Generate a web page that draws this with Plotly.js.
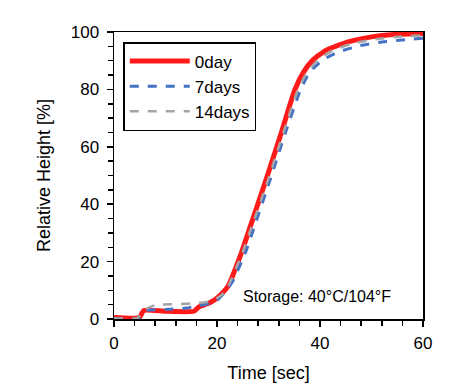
<!DOCTYPE html>
<html>
<head>
<meta charset="utf-8">
<script src="https://cdn.plot.ly/plotly-3.0.1.min.js"></script>
<style>html,body{margin:0;padding:0;background:#fff;}#chart{width:470px;height:391px;}</style>
</head>
<body>
<div id="chart"></div>
<script>
const seriesNames = ["0day", "7days", "14days"];

const time0 = [0, 4.9, 5.8, 10, 15.5, 16.5, 18.5, 19.5, 21, 22.1, 24.7, 26.7, 29.5, 32.5, 35.1, 36.8, 38.6, 41.2, 43, 46, 50, 55, 60];
const height0 = [0.5, 0.5, 3, 2.7, 2.7, 4.2, 5.6, 6.6, 9, 11.3, 22.9, 33.5, 48.4, 65, 79.8, 86, 90.2, 93.7, 95, 96.8, 98.3, 99.2, 99.5];

const time7 = [0, 5, 6.5, 10, 14, 16, 18, 20, 22, 23, 25.5, 27.5, 30.3, 33.3, 36.2, 38, 40.5, 43.5, 47.7, 52, 56, 60];
const height7 = [0.2, 0.2, 3, 3.3, 3.8, 4.5, 5.2, 6.5, 10.5, 13, 23, 33.5, 48.4, 65, 79.8, 86, 90.2, 93, 95.2, 96.5, 97.2, 97.8];

const time14 = [0, 4.5, 6.2, 8.1, 12, 16.2, 19, 21, 22, 24.9, 27, 29.9, 32.9, 35.7, 37.5, 39.8, 42.5, 46, 50, 55, 60];
const height14 = [0.3, 0.3, 3.5, 4.9, 5.2, 5.5, 6.3, 8.5, 10.8, 22.9, 33.5, 48.4, 65, 79.8, 86, 90.5, 93.6, 95.8, 97.3, 98.3, 98.8];

const annotationText = "Storage: 40°C/104°F";

const traces = [
  {x: time0, y: height0, name: seriesNames[0], mode: "lines", line: {color: "#ff1a1a", width: 5, shape: "spline", smoothing: 0.5}},
  {x: time7, y: height7, name: seriesNames[1], mode: "lines", line: {color: "#4472c4", width: 3, dash: "dash", shape: "spline", smoothing: 0.5}},
  {x: time14, y: height14, name: seriesNames[2], mode: "lines", line: {color: "#a5a5a5", width: 2.5, dash: "dash", shape: "spline", smoothing: 0.5}}
];

const axisCommon = {
  showline: true, linecolor: "#000", linewidth: 1.5, mirror: true,
  ticks: "outside", ticklen: 6, tickcolor: "#000", tickwidth: 1.5,
  showgrid: false, zeroline: false,
  tickfont: {family: "Liberation Sans, Arial, sans-serif", size: 17, color: "#000"}
};

const layout = {
  width: 470, height: 391,
  margin: {l: 114, r: 47, t: 32, b: 72},
  paper_bgcolor: "#fff", plot_bgcolor: "#fff",
  font: {family: "Liberation Sans, Arial, sans-serif", color: "#000"},
  xaxis: Object.assign({}, axisCommon, {
    range: [0, 60], dtick: 20, tick0: 0, ticklabelstandoff: 2,
    minor: {dtick: 4, ticks: "outside", ticklen: 5, tickcolor: "#000", tickwidth: 1.5},
    title: {text: "Time [sec]", font: {size: 18, color: "#000"}, standoff: 14}
  }),
  yaxis: Object.assign({}, axisCommon, {
    range: [0, 100], dtick: 20, tick0: 0, ticklabelstandoff: 4,
    minor: {dtick: 5, ticks: "outside", ticklen: 5, tickcolor: "#000", tickwidth: 1.5},
    title: {text: "Relative Height [%]", font: {size: 18, color: "#000"}, standoff: 15}
  }),
  legend: {
    x: 0.03, y: 0.965, xanchor: "left", yanchor: "top",
    bordercolor: "#000", borderwidth: 1.5, bgcolor: "#fff",
    font: {size: 17, color: "#000"}, tracegroupgap: 0, itemwidth: 60
  },
  annotations: [{
    text: annotationText, x: 0.903, y: 0.077, xref: "paper", yref: "paper",
    xanchor: "right", yanchor: "middle", showarrow: false,
    font: {size: 16, color: "#000"}
  }],
  showlegend: true
};

Plotly.newPlot("chart", traces, layout, {staticPlot: true, displayModeBar: false});
</script>
</body>
</html>
